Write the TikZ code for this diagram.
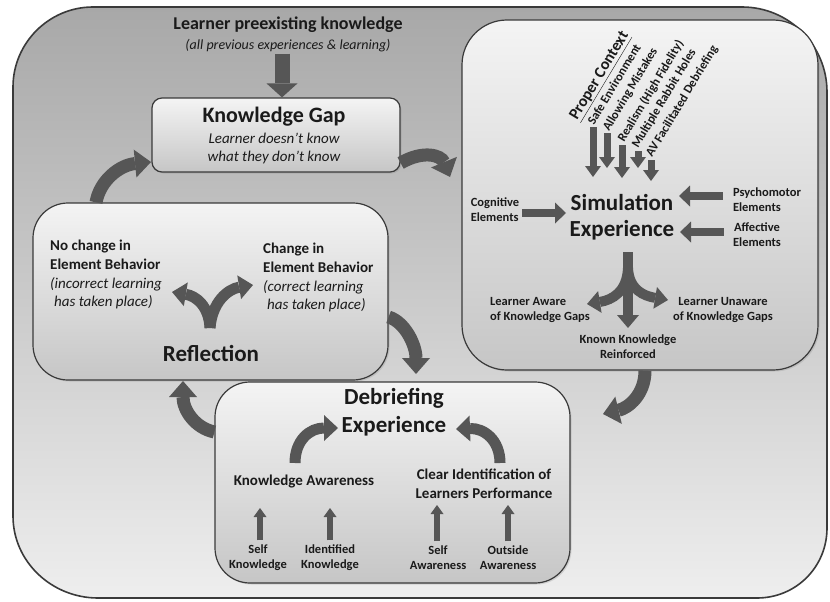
\documentclass[tikz,border=0pt]{standalone}
\usepackage{fontspec}
\setmainfont{Carlito}
\usetikzlibrary{arrows.meta,calc,shadows}
\definecolor{txt}{HTML}{1A1A1A}
\definecolor{arrc}{HTML}{565656}
\definecolor{edge}{HTML}{3A3A3A}
\definecolor{outtop}{HTML}{A8A8A8}
\definecolor{outbot}{HTML}{EEEEEE}
\definecolor{boxtop}{HTML}{F4F4F4}
\definecolor{boxbot}{HTML}{C6C6C6}
\begin{document}
\begin{tikzpicture}[x=1pt,y=-1pt,
  every node/.style={inner sep=0pt, text=txt},
  box/.style={draw=edge, line width=1.2pt, top color=boxtop, bottom color=boxbot,
    rounded corners=#1, drop shadow={opacity=0.25, shadow xshift=1.5pt, shadow yshift=-1.5pt}},
  blk/.style n args={3}{draw=arrc, line width=#1, -{Triangle[width=#2,length=#3,line width=0pt]}},
  ftitle/.style={font=\bfseries\fontsize{23}{28}\selectfont, align=center},
  fmid/.style={font=\bfseries\fontsize{15}{18.5}\selectfont, align=left},
  fmidit/.style={font=\itshape\fontsize{15}{18.5}\selectfont, align=left},
  fsmall/.style={font=\bfseries\fontsize{12.5}{15}\selectfont, align=center},
  frot/.style={font=\bfseries\fontsize{12.5}{15}\selectfont, anchor=base west, rotate=59},
]
\useasboundingbox (0,0) rectangle (830,602);
\fill[white] (0,0) rectangle (830,602);

% outer frame
\path[draw=edge, line width=1.6pt, top color=outtop, bottom color=outbot]
  (13,87) .. controls (13,43) and (49,7) .. (93,7) -- (742,7)
  .. controls (789,7) and (827,45) .. (827,92) -- (827,528)
  .. controls (827,567) and (796,598) .. (757,598) -- (98,598)
  .. controls (52,598) and (13,562) .. (13,516) -- cycle;

% boxes
\node[box=10pt, minimum width=248pt, minimum height=74pt] (kg) at (276,135) {};
\node[box=45pt, minimum width=356pt, minimum height=350pt] (sim) at (640,195) {};
\node[box=35pt, minimum width=355pt, minimum height=177pt] (refl) at (210.5,291.5) {};
\node[box=35pt, minimum width=355pt, minimum height=201pt] (deb) at (392.5,482.5) {};

% top texts
\node[font=\bfseries\fontsize{18}{22}\selectfont] (pre) at (288,25) {Learner preexisting knowledge};
\node[font=\itshape\fontsize{14}{17}\selectfont] (preit) at (288,46) {(all previous experiences \& learning)};
\coordinate (ax) at (282,0);
\draw[blk={15pt}{31pt}{14pt}] (preit.south -| ax) ++(0,1) -- (kg.north -| ax);

% knowledge gap
\node[font=\bfseries\fontsize{22}{26}\selectfont] (kgt) at (274,117) {Knowledge Gap};
\node[font=\itshape\fontsize{15}{18}\selectfont, align=center] (kgs) at (274,148)
  {Learner doesn’t know\\what they don’t know};

% simulation box contents
\node[frot, font=\bfseries\fontsize{16}{19}\selectfont] (pc) at (577,121) {\underline{Proper Context}};
\node[frot] (r1) at (594,126) {Safe Environment};
\node[frot] (r2) at (609,132) {Allowing Mistakes};
\node[frot] (r3) at (624,143) {Realism (High Fidelity)};
\node[frot] (r4) at (638,149) {Multiple Rabbit Holes};
\node[frot] (r5) at (652,158) {AV Facilitated Debriefing};
\coordinate (d1a) at (593,127); \coordinate (d1b) at (593,177);
\coordinate (d2a) at (607,133); \coordinate (d2b) at (607,168);
\coordinate (d3a) at (622,145); \coordinate (d3b) at (622,178);
\coordinate (d4a) at (638,151); \coordinate (d4b) at (638,168);
\coordinate (d5a) at (651,160); \coordinate (d5b) at (651,181);
\foreach \i in {1,...,5} \draw[blk={7pt}{16pt}{11pt}] (d\i a) -- (d\i b);

\node[ftitle] (simt) at (622,202) {Simulation};
\node[ftitle] (simt2) at (622,230) {Experience};

\node[fsmall, align=left] (cog) at (495,210) {Cognitive\\Elements};
\node[fsmall, align=left] (psy) at (767,200) {Psychomotor\\Elements};
\node[fsmall] (aff) at (757,234.5) {Affective\\Elements};
\draw[blk={8pt}{21pt}{11pt}] (cog.east |- 0,213) ++(3,0) -- (566,213);
\draw[blk={8pt}{21pt}{11pt}] (psy.west |- 0,196) ++(-10,0) -- (679,196);
\draw[blk={8pt}{21pt}{11pt}] (aff.west |- 0,232) ++(-9,0) -- (680,232);

% triple split arrow
\coordinate (tsa) at (628,252);
\coordinate (tsb) at (628,328);
\draw[blk={10pt}{22pt}{13pt}] (628,268) .. controls (627,292) and (612,300) .. (587,304);
\draw[blk={10pt}{22pt}{13pt}] (628,268) .. controls (629,290) and (644,296) .. (668,300);
\draw[blk={10pt}{22pt}{13pt}] (tsa) -- (tsb);

\node[fsmall, align=left] (law) at (540,310.5) {Learner Aware\\of Knowledge Gaps};
\node[fsmall] (luw) at (723,310.5) {Learner Unaware\\of Knowledge Gaps};
\node[fsmall] (kkr) at (628,346.5) {Known Knowledge\\Reinforced};

% reflection contents
\node[fmid, anchor=west] (nc) at (50,255) {No change in\\Element Behavior};
\node[fmidit, anchor=west] (nci) at (50,293) {(incorrect learning\\\hspace*{4pt}has taken place)};
\node[fmid, anchor=west] (cc) at (263,258) {Change in\\Element Behavior};
\node[fmidit, anchor=west] (cci) at (263,296) {(correct learning\\\hspace*{4pt}has taken place)};
\node[ftitle] (reft) at (211,353) {Reflection};
\draw[blk={11pt}{24pt}{14pt}] (210,328) .. controls (209,306) and (196,296) .. (172,292);
\draw[blk={11pt}{24pt}{14pt}] (210,328) .. controls (212,302) and (228,289) .. (253,285);

% debriefing contents
\node[ftitle] (debt) at (394,398) {Debriefing};
\node[ftitle] (debt2) at (394,426) {Experience};
\draw[blk={11pt}{26pt}{14pt}] (295,463) .. controls (295,440) and (310,428) .. (338,428);
\draw[blk={11pt}{26pt}{14pt}] (500,463) .. controls (500,440) and (484,428) .. (456,429);
\node[fmid] (ka) at (304,482) {Knowledge Awareness};
\node[fmid, align=center] (cid) at (484,484) {Clear Identification of\\Learners Performance};

\node[fsmall] (sk) at (258,557.5) {Self\\Knowledge};
\node[fsmall] (ik) at (330,557.5) {Identified\\Knowledge};
\node[fsmall] (sa) at (438,557.5) {Self\\Awareness};
\node[fsmall] (oa) at (508,557.5) {Outside\\Awareness};
\foreach \n/\xx/\tp in {sk/260/508, ik/330/508, sa/437/505, oa/508/505}
  \draw[blk={6pt}{13pt}{9pt}] (\n.north -| \xx,0) ++(0,-4) -- (\xx,\tp);

% cycle arrows
\draw[blk={13pt}{28pt}{16pt}] ($(kg.east)+(0,28)$) .. controls (423,150) and (441,155) .. (450,177);
\draw[blk={13pt}{28pt}{16pt}] (refl.north -| 96,0) .. controls (100,180) and (120,165) .. (151,162);
\draw[blk={13pt}{28pt}{16pt}] (sim.south -| 645,0) .. controls (645,395) and (628,408) .. (603,414);
\draw[blk={13pt}{28pt}{16pt}] (refl.east |- 0,317) .. controls (405,322) and (416,345) .. (416,374);
\draw[blk={13pt}{28pt}{16pt}] (deb.west |- 0,432) .. controls (195,428) and (183,410) .. (183,381);
\end{tikzpicture}
\end{document}
